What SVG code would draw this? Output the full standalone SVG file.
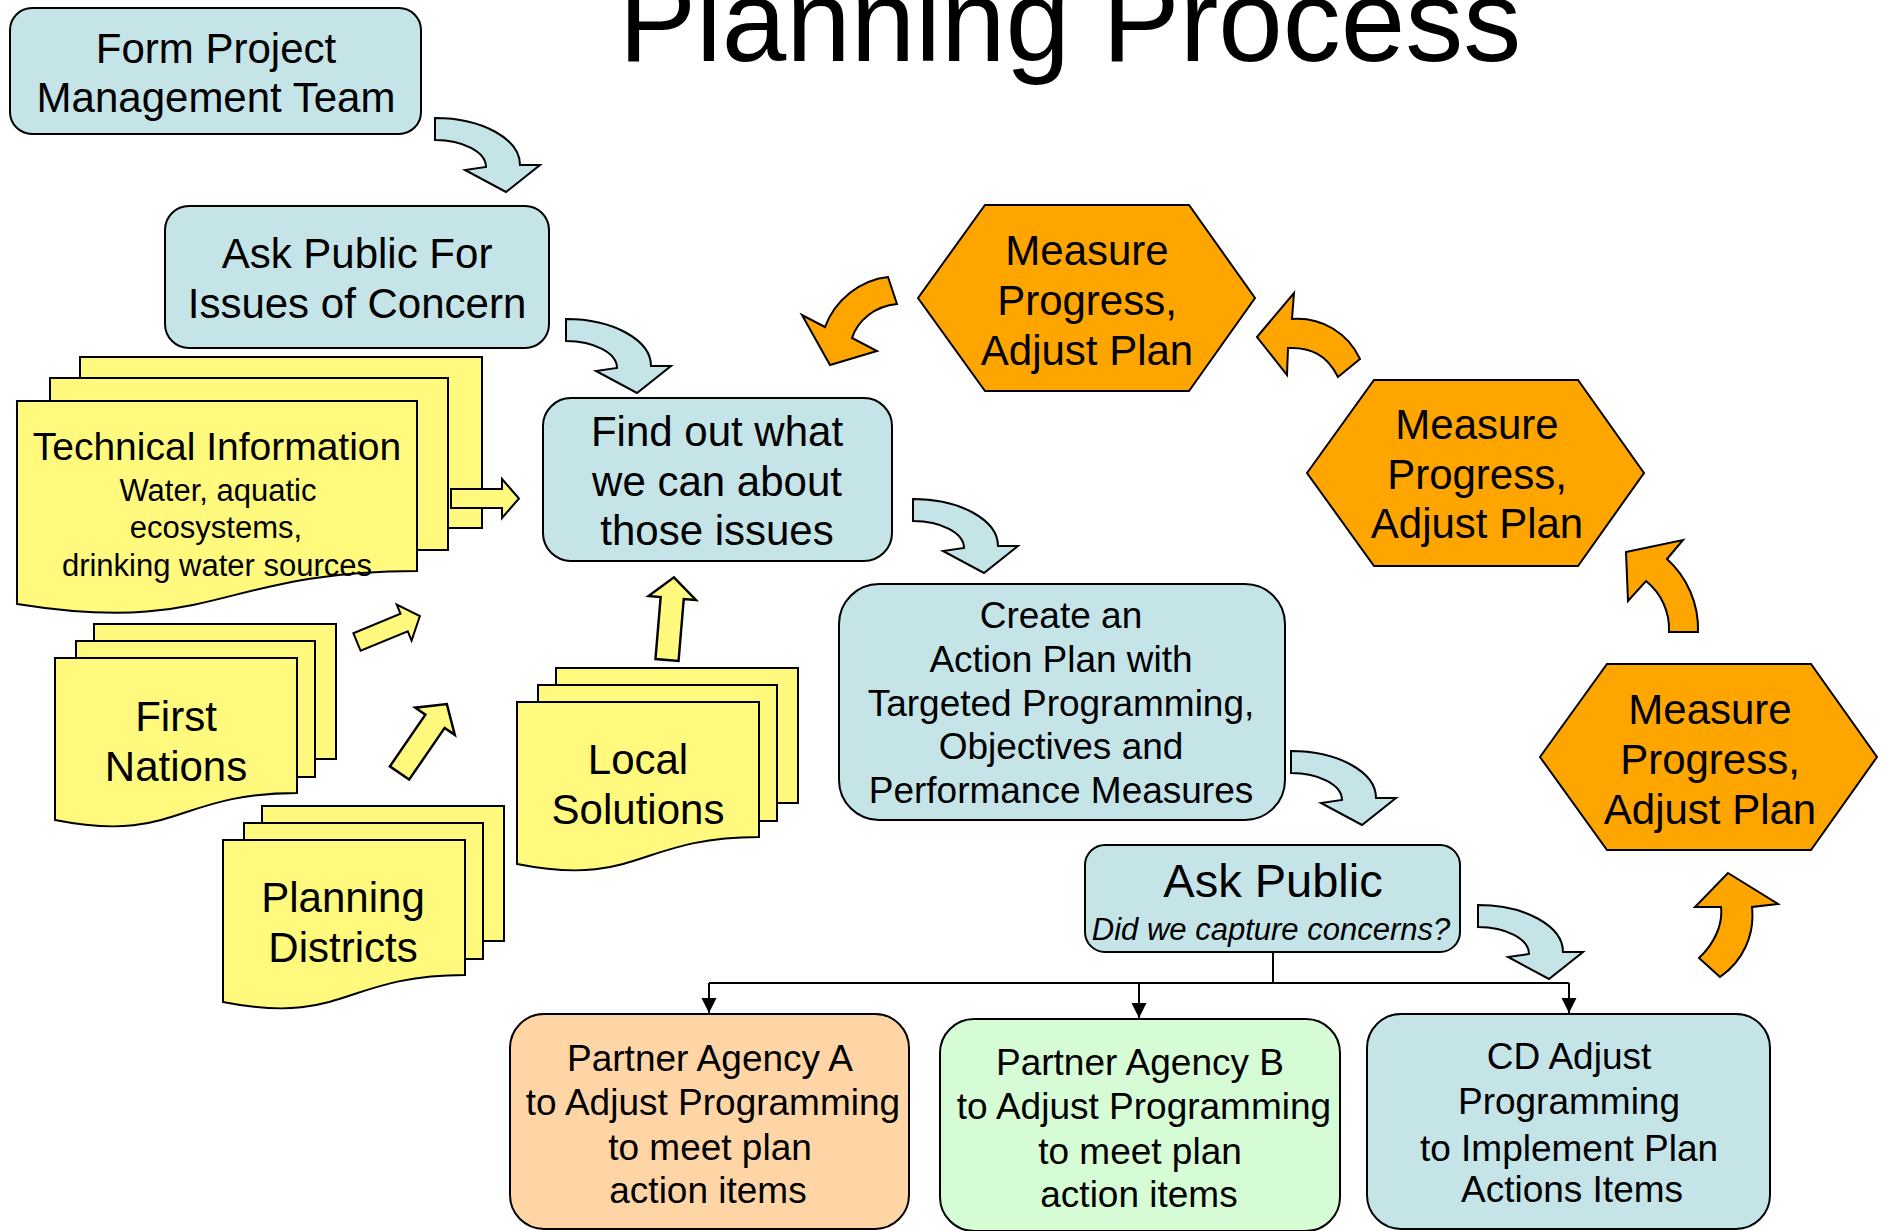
<svg xmlns="http://www.w3.org/2000/svg" xmlns:xlink="http://www.w3.org/1999/xlink" width="1887" height="1231" viewBox="0 0 1887 1231">
<style>
text{font-family:"Liberation Sans",Arial,sans-serif;text-anchor:middle;fill:#000}
.box{stroke:#000;stroke-width:2}
.blue{fill:#C4E4E7}
.peach{fill:#FFD5A6}
.green{fill:#D5FCD5}
.yel{fill:#FFFA7D;stroke:#000;stroke-width:2}
.org{fill:#FFA500;stroke:#000;stroke-width:2;stroke-linejoin:miter}
.cblue{fill:#C4E4E7;stroke:#000;stroke-width:2}
.byel{fill:#FFFA7D;stroke:#000;stroke-width:2;vector-effect:non-scaling-stroke}
.line{fill:none;stroke:#000;stroke-width:2}
.f42{font-size:42px}
.f41{font-size:42px}
.f37{font-size:37px}
.f39{font-size:39px}
.f31{font-size:31px}
.f47{font-size:47px}
</style>
<defs>
<marker id="ah" markerUnits="userSpaceOnUse" markerWidth="16" markerHeight="16" viewBox="0 0 16 16" refX="15" refY="8" orient="auto">
<path d="M0,0.5 L15,8 L0,15.5 Z" fill="#000"/>
</marker>
<path id="carrow" d="M0,0 C47,0 85,21 85,47 L105,47 L71,74 L30,52 L51,49 C51,34 28,22 0,22 Z"/>
<path id="barrow" d="M0,-9.5 H51 V-19.5 L68,0 L51,19.5 V9.5 H0 Z"/>
<polygon id="hex" points="0,93 67,0 271,0 337,93 271,186 67,186"/>
<g id="docstack">
<rect x="39" y="-34" width="242" height="135" class="yel"/>
<rect x="21" y="-17" width="239" height="136" class="yel"/>
<path d="M0,0 H242 V135 C121,135 121,186 0,162 Z" class="yel"/>
</g>
</defs>
<rect width="1887" height="1231" fill="#fff"/>

<text x="1070" y="61" style="font-size:116px">Planning Process</text>

<g id="form-team">
<rect x="10" y="8" width="411" height="126" rx="22" class="box blue"/>
<text class="f41" x="216" y="63">Form Project</text>
<text class="f41" x="216" y="112">Management Team</text>
</g>

<g id="ask-public-issues">
<rect x="165" y="206" width="384" height="142" rx="24" class="box blue"/>
<text class="f41" x="357" y="268">Ask Public For</text>
<text class="f41" x="357" y="318">Issues of Concern</text>
</g>

<g id="technical-info">
<rect x="80" y="357" width="402" height="171" class="yel"/>
<rect x="50" y="378" width="398" height="172" class="yel"/>
<path d="M17,401 H417 V571 C217,571 217,636 17,604 Z" class="yel"/>
<text class="f39" x="217" y="460">Technical Information</text>
<text class="f31" x="218" y="501">Water, aquatic</text>
<text class="f31" x="216" y="538">ecosystems,</text>
<text class="f31" x="217" y="576">drinking water sources</text>
</g>

<g id="find-out">
<rect x="543" y="398" width="349" height="163" rx="28" class="box blue"/>
<text class="f42" x="717" y="446">Find out what</text>
<text class="f42" x="717" y="496">we can about</text>
<text class="f42" x="717" y="545">those issues</text>
</g>

<g id="first-nations">
<use xlink:href="#docstack" href="#docstack" transform="translate(55,658)"/>
<text class="f42" x="176" y="731">First</text>
<text class="f42" x="176" y="781">Nations</text>
</g>

<g id="local-solutions">
<use xlink:href="#docstack" href="#docstack" transform="translate(517,702)"/>
<text class="f42" x="638" y="774">Local</text>
<text class="f42" x="638" y="824">Solutions</text>
</g>

<g id="planning-districts">
<use xlink:href="#docstack" href="#docstack" transform="translate(223,840)"/>
<text class="f42" x="343" y="912">Planning</text>
<text class="f42" x="343" y="962">Districts</text>
</g>

<g id="create-plan">
<rect x="839" y="584" width="446" height="236" rx="40" class="box blue"/>
<text class="f37" x="1061" y="628">Create an</text>
<text class="f37" x="1061" y="672">Action Plan with</text>
<text class="f37" x="1061" y="716">Targeted Programming,</text>
<text class="f37" x="1061" y="759">Objectives and</text>
<text class="f37" x="1061" y="803">Performance Measures</text>
</g>

<g id="ask-public-check">
<rect x="1085" y="845" width="375" height="107" rx="20" class="box blue"/>
<text class="f47" x="1273" y="897">Ask Public</text>
<text class="f31" x="1271" y="940" font-style="italic">Did we capture concerns?</text>
</g>

<g id="measure-top">
<use xlink:href="#hex" href="#hex" transform="translate(918,205)" class="org"/>
<text class="f42" x="1087" y="265">Measure</text>
<text class="f42" x="1087" y="315">Progress,</text>
<text class="f42" x="1087" y="365">Adjust Plan</text>
</g>

<g id="measure-middle">
<use xlink:href="#hex" href="#hex" transform="translate(1307,380)" class="org"/>
<text class="f42" x="1477" y="439">Measure</text>
<text class="f42" x="1477" y="489">Progress,</text>
<text class="f42" x="1477" y="538">Adjust Plan</text>
</g>

<g id="measure-bottom">
<use xlink:href="#hex" href="#hex" transform="translate(1540,664)" class="org"/>
<text class="f42" x="1710" y="724">Measure</text>
<text class="f42" x="1710" y="774">Progress,</text>
<text class="f42" x="1710" y="824">Adjust Plan</text>
</g>

<g id="partner-a">
<rect x="510" y="1014" width="399" height="215" rx="34" class="box peach"/>
<text class="f37" x="710" y="1071">Partner Agency A</text>
<text class="f37" x="713" y="1115">to Adjust Programming</text>
<text class="f37" x="710" y="1160">to meet plan</text>
<text class="f37" x="708" y="1203">action items</text>
</g>

<g id="partner-b">
<rect x="940" y="1019" width="400" height="212" rx="34" class="box green"/>
<text class="f37" x="1140" y="1075">Partner Agency B</text>
<text class="f37" x="1144" y="1119">to Adjust Programming</text>
<text class="f37" x="1140" y="1164">to meet plan</text>
<text class="f37" x="1139" y="1207">action items</text>
</g>

<g id="cd-adjust">
<rect x="1367" y="1014" width="403" height="215" rx="34" class="box blue"/>
<text class="f37" x="1569" y="1069">CD Adjust</text>
<text class="f37" x="1569" y="1114">Programming</text>
<text class="f37" x="1569" y="1161">to Implement Plan</text>
<text class="f37" x="1572" y="1202">Actions Items</text>
</g>

<g id="connectors">
<use xlink:href="#carrow" href="#carrow" class="cblue" transform="translate(435,118)"/>
<use xlink:href="#carrow" href="#carrow" class="cblue" transform="translate(566,319)"/>
<use xlink:href="#carrow" href="#carrow" class="cblue" transform="translate(913,499)"/>
<use xlink:href="#carrow" href="#carrow" class="cblue" transform="translate(1291,751)"/>
<use xlink:href="#carrow" href="#carrow" class="cblue" transform="translate(1478,905)"/>
<use xlink:href="#barrow" href="#barrow" class="byel" transform="translate(451,498.5)"/>
<use xlink:href="#barrow" href="#barrow" class="byel" transform="translate(357,642) rotate(-22.4)"/>
<use xlink:href="#barrow" href="#barrow" class="byel" transform="translate(399.5,773) rotate(-55.5) scale(1.23)"/>
<use xlink:href="#barrow" href="#barrow" class="byel" transform="translate(667,660) rotate(-85.2) scale(1.22)"/>
<path class="org" d="M888,277 C860,280 835,300 825,327 L802,315 L830,365 L877,351 L852,338 C858,320 875,306 897,304 Z"/>
<path class="org" d="M1257,337 L1294,293 L1292,319 C1322,317 1348,333 1360,359 L1338,377 C1327,355 1311,347 1288,348 L1287,375 Z"/>
<path class="org" d="M1626,552 L1683,540 L1667,559 C1687,577 1699,604 1698,632 L1669,632 C1670,612 1661,593 1646,581 L1628,601 Z"/>
<path class="org" d="M1728,873 L1778,904 L1752,907 C1755,935 1743,961 1720,977 L1699,958 C1714,944 1723,925 1721,907 L1695,907 Z"/>
<polyline class="line" points="1273,952 1273,983"/>
<polyline class="line" points="709,983 1569,983"/>
<line class="line" x1="709" y1="983" x2="709" y2="1013" marker-end="url(#ah)"/>
<line class="line" x1="1139" y1="983" x2="1139" y2="1018" marker-end="url(#ah)"/>
<line class="line" x1="1569" y1="983" x2="1569" y2="1013" marker-end="url(#ah)"/>
</g>
</svg>
